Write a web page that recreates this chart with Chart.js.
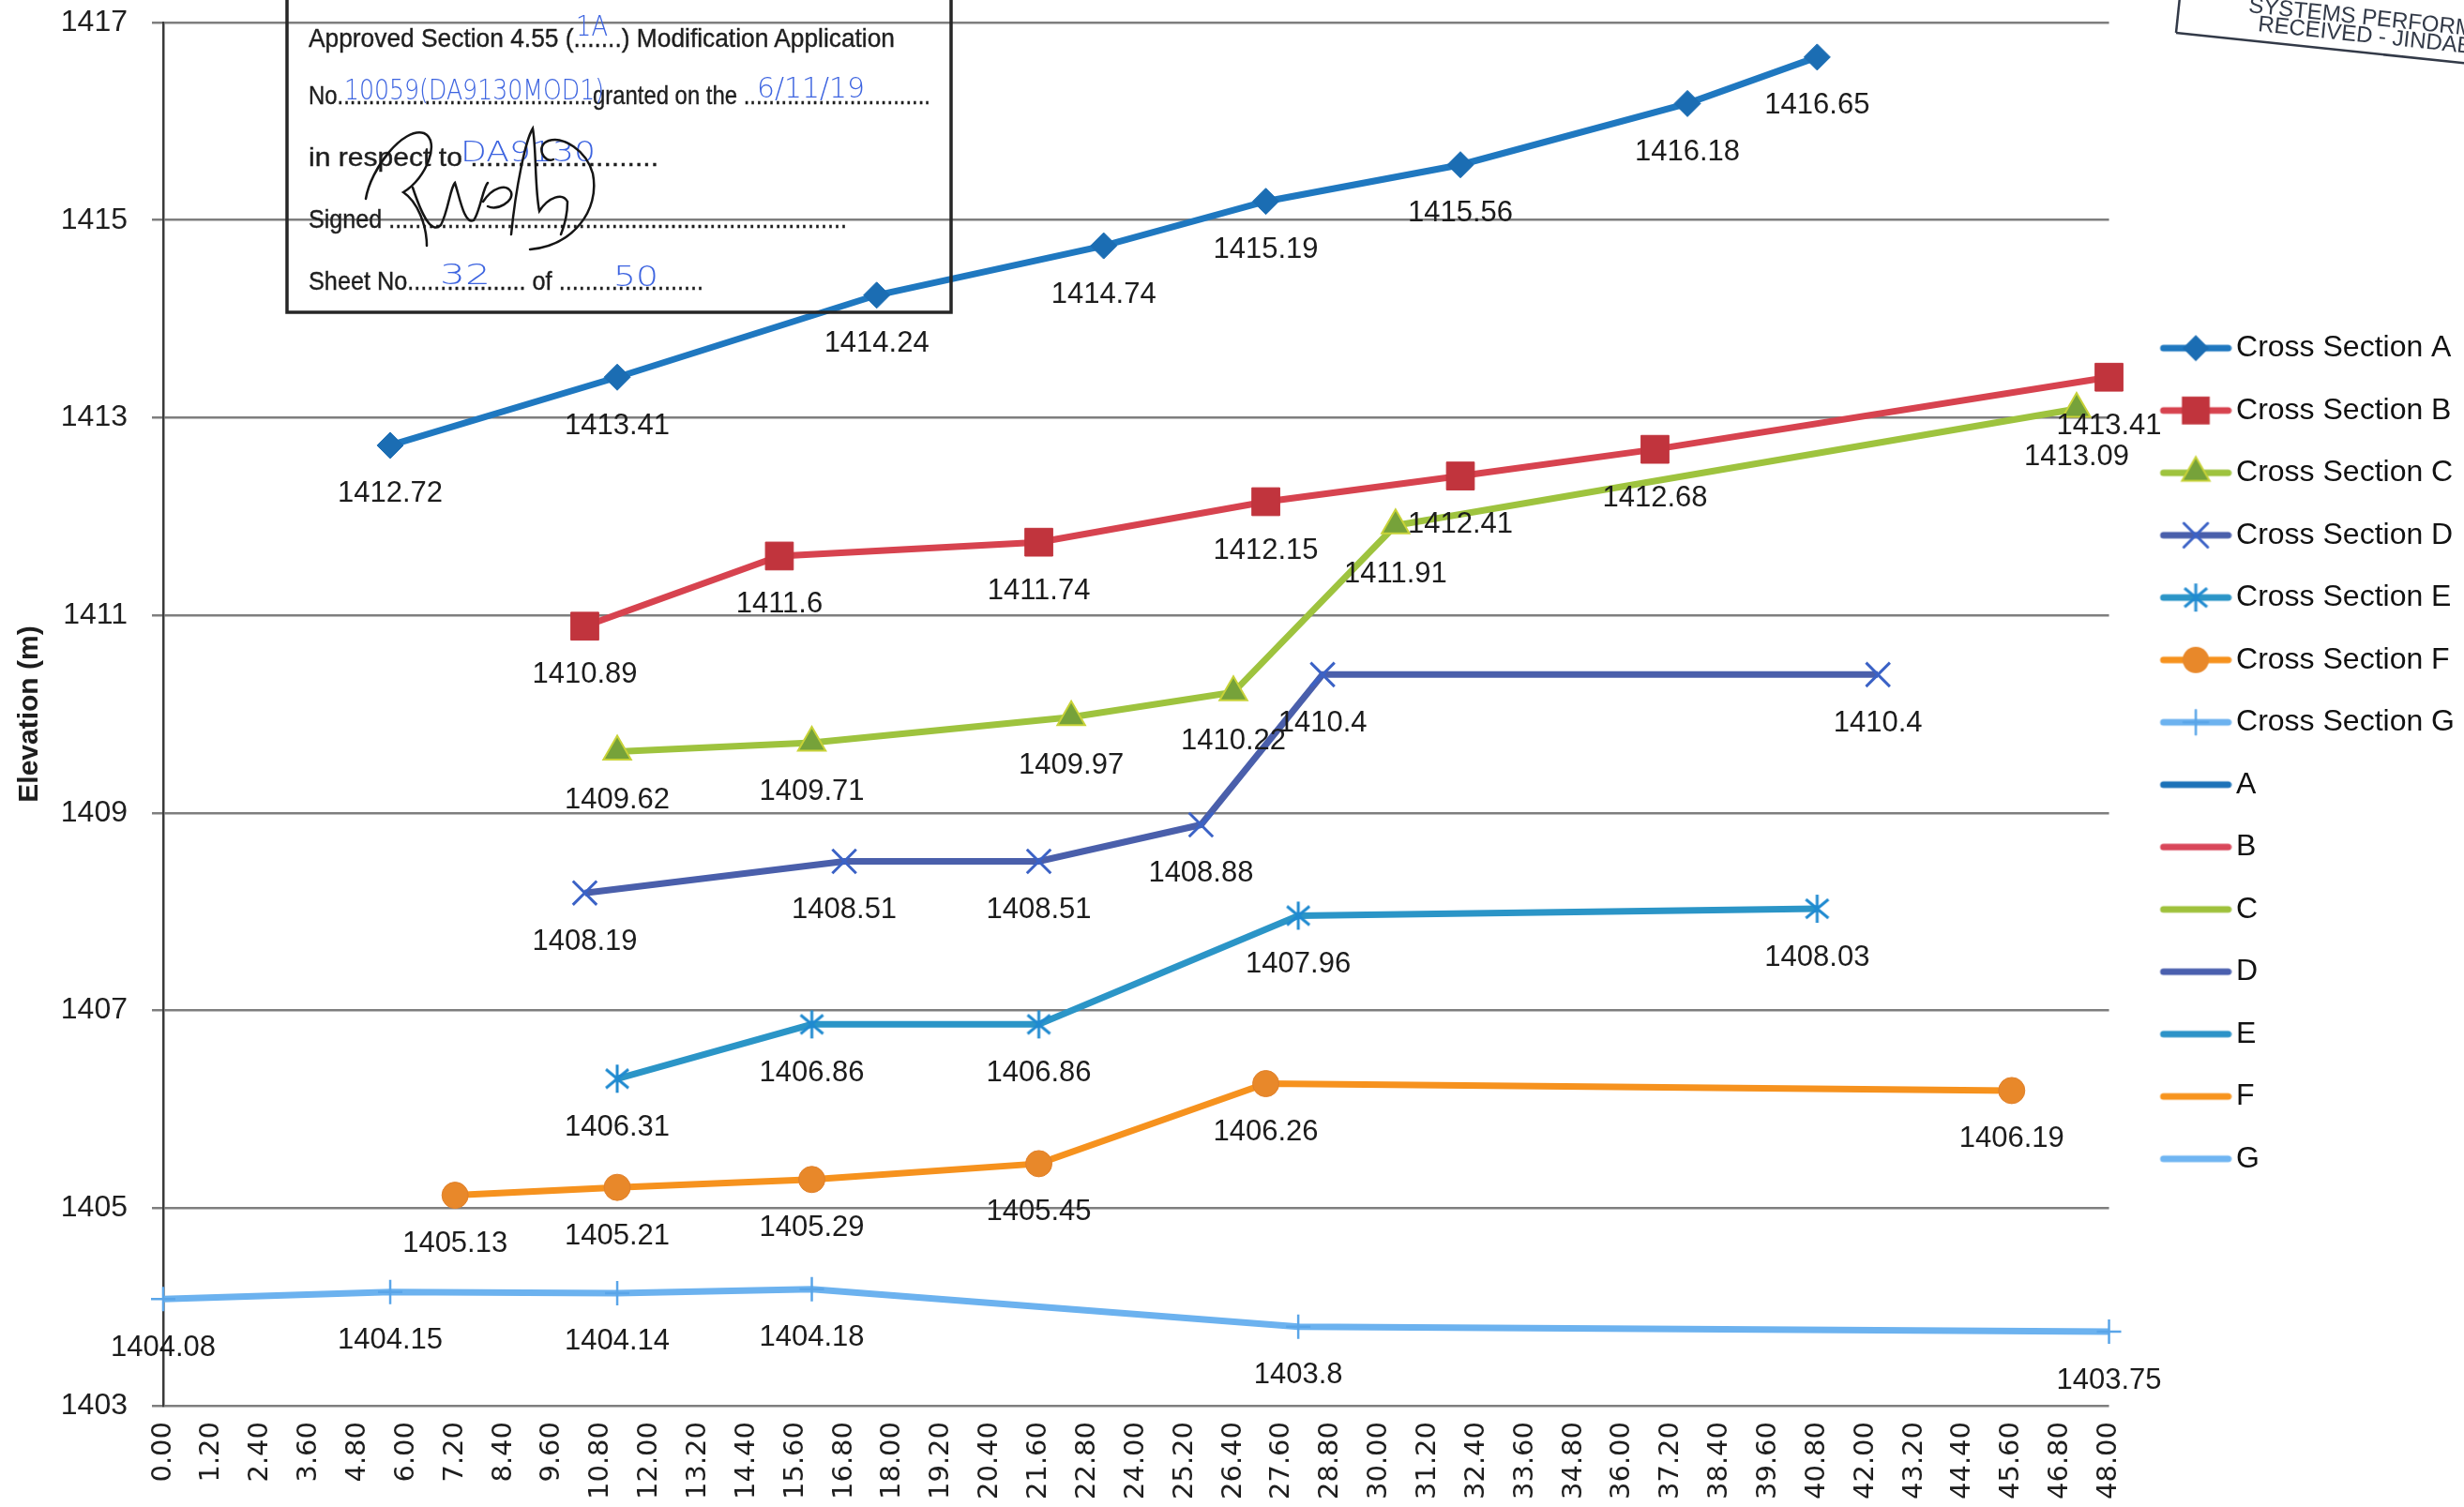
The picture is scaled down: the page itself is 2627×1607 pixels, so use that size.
<!DOCTYPE html>
<html><head><meta charset="utf-8">
<script src="https://cdn.jsdelivr.net/npm/chart.js@4.4.1/dist/chart.umd.min.js"></script>
<style>
html,body{margin:0;padding:0;background:#fff;width:2627px;height:1607px;overflow:hidden}
#wrap{position:relative;width:2627px;height:1607px}
#c{position:absolute;left:0;top:0}
#stamp{position:absolute;left:0;top:0;pointer-events:none}
</style></head><body>
<div id="wrap">
<canvas id="c" width="2627" height="1607"></canvas>
<svg id="stamp" width="2627" height="1607" viewBox="0 0 2627 1607" xmlns="http://www.w3.org/2000/svg">
  <rect x="306" y="-10" width="708" height="343" fill="none" stroke="#262626" stroke-width="3.5"/>
  <g font-family="Liberation Sans, Arial, sans-serif" font-size="28" fill="#1e1e1e" stroke="#1e1e1e" stroke-width="0.4">
    <text x="329" y="50" textLength="625" lengthAdjust="spacingAndGlyphs">Approved Section 4.55 (.......) Modification Application</text>
    <text x="329" y="111" textLength="663" lengthAdjust="spacingAndGlyphs">No.........................................granted on the ..............................</text>
    <text x="329" y="177" textLength="373" lengthAdjust="spacingAndGlyphs">in respect to ........................</text>
    <text x="329" y="243" textLength="574" lengthAdjust="spacingAndGlyphs">Signed ......................................................................</text>
    <text x="329" y="309" textLength="421" lengthAdjust="spacingAndGlyphs">Sheet No.................. of ......................</text>
  </g>
  <g font-family="DejaVu Sans, sans-serif" font-size="30" fill="#3d64e0" font-weight="300">
    <text x="614" y="38" textLength="34" lengthAdjust="spacingAndGlyphs">1A</text>
    <text x="367" y="106" textLength="277" lengthAdjust="spacingAndGlyphs">10059(DA9130MOD1)</text>
    <text x="807" y="104" textLength="115" lengthAdjust="spacingAndGlyphs">6/11/19</text>
    <text x="491" y="172" textLength="144" lengthAdjust="spacingAndGlyphs">DA9130</text>
    <text x="469" y="303" textLength="54" lengthAdjust="spacingAndGlyphs">32</text>
    <text x="654" y="305" textLength="48" lengthAdjust="spacingAndGlyphs">50</text>
  </g>
  <g fill="none" stroke="#151515" stroke-width="2.5" stroke-linecap="round">
    <path d="M390 212 C395 180 430 135 452 142 C470 150 455 190 430 205 C445 215 455 240 455 262"/>
    <path d="M440 200 C450 230 460 250 470 240 C478 225 480 200 485 195 C490 210 495 240 505 235 C512 225 515 200 520 195"/>
    <path d="M515 215 C525 200 540 195 545 205 C548 215 530 225 520 220"/>
    <path d="M545 250 C550 200 560 150 568 137 C572 160 570 200 575 225 C585 210 600 205 605 215 C605 230 600 245 598 250"/>
    <path d="M565 266 C610 262 640 225 632 185 C625 160 600 145 585 150 C570 155 580 175 590 170"/>
  </g>
  <g transform="rotate(6 2320 35)" fill="#333a48" font-family="Liberation Sans, Arial, sans-serif" font-size="24">
    <line x1="2320" y1="-60" x2="2320" y2="35" stroke="#333a48" stroke-width="2.5"/>
    <line x1="2320" y1="35" x2="2720" y2="35" stroke="#333a48" stroke-width="2.5"/>
    <text x="2394" y="5">SYSTEMS PERFORMANCE</text>
    <text x="2406" y="24">RECEIVED - JINDABYNE</text>
  </g>
</svg>
</div>
<script>
// ---- data ----
const seriesNames = ['Cross Section A','Cross Section B','Cross Section C','Cross Section D','Cross Section E','Cross Section F','Cross Section G'];
const lineOnlyNames = ['A','B','C','D','E','F','G'];
const distA = [5.6, 11.2, 17.6, 23.2, 27.2, 32.0, 37.6, 40.8];
const elevA = [1412.72, 1413.41, 1414.24, 1414.74, 1415.19, 1415.56, 1416.18, 1416.65];
const distB = [10.4, 15.2, 21.6, 27.2, 32.0, 36.8, 48.0];
const elevB = [1410.89, 1411.6, 1411.74, 1412.15, 1412.41, 1412.68, 1413.41];
const distC = [11.2, 16.0, 22.4, 26.4, 30.4, 47.2];
const elevC = [1409.62, 1409.71, 1409.97, 1410.22, 1411.91, 1413.09];
const distD = [10.4, 16.8, 21.6, 25.6, 28.6, 42.3];
const elevD = [1408.19, 1408.51, 1408.51, 1408.88, 1410.4, 1410.4];
const distE = [11.2, 16.0, 21.6, 28.0, 40.8];
const elevE = [1406.31, 1406.86, 1406.86, 1407.96, 1408.03];
const distF = [7.2, 11.2, 16.0, 21.6, 27.2, 45.6];
const elevF = [1405.13, 1405.21, 1405.29, 1405.45, 1406.26, 1406.19];
const distG = [0, 5.6, 11.2, 16.0, 28.0, 48.0];
const elevG = [1404.08, 1404.15, 1404.14, 1404.18, 1403.8, 1403.75];
const xMin = 0, xMax = 48, xStep = 1.2;
const yMin = 1403, yMax = 1417, yStep = 2;
const yTitle = 'Elevation (m)';

// ---- styles ----
const seriesStyles = [
  {line:'#1f78c0', fill:'#1b6db3', stroke:'#1b6db3', shape:'rectRot', r:14, bw:1},
  {line:'#d7434f', fill:'#c1343d', stroke:'#c1343d', shape:'rect', r:21, bw:1},
  {line:'#9ec33e', fill:'#76a23a', stroke:'#c8d238', shape:'triangle', r:17, bw:2},
  {line:'#4a5fab', fill:'#3b62c6', stroke:'#3b62c6', shape:'crossRot', r:18, bw:3},
  {line:'#2b95c7', fill:'#1f8ad0', stroke:'#1f8ad0', shape:'asterisk', r:16, bw:3},
  {line:'#f6921e', fill:'#e8882a', stroke:'#e0802a', shape:'circle', r:14, bw:1},
  {line:'#6cb2ef', fill:'#5aa5e8', stroke:'#5aa5e8', shape:'cross', r:13, bw:2.5}
];
const plainColors = ['#1c72b8','#d9475a','#9fc13c','#4a5fae','#2d93c8','#f7941e','#6fb5f2'];

function makeAsterisk(color){
  const c = document.createElement('canvas'); c.width = 34; c.height = 34;
  const g = c.getContext('2d'); g.strokeStyle = color; g.lineWidth = 3;
  g.beginPath(); g.moveTo(17,2); g.lineTo(17,32); g.moveTo(5,7); g.lineTo(29,27); g.moveTo(5,27); g.lineTo(29,7); g.stroke();
  return c;
}
const asteriskImg = makeAsterisk(seriesStyles[4].stroke);

function drawMarker(g, s, cx, cy){
  g.fillStyle = s.fill; g.strokeStyle = s.stroke; g.lineWidth = s.bw;
  const r = s.r; g.beginPath();
  switch(s.shape){
    case 'rectRot': g.moveTo(cx,cy-r); g.lineTo(cx+r,cy); g.lineTo(cx,cy+r); g.lineTo(cx-r,cy); g.closePath(); g.fill(); break;
    case 'rect': { const h = r*Math.SQRT1_2; g.rect(cx-h,cy-h,2*h,2*h); g.fill(); break; }
    case 'triangle': g.moveTo(cx,cy-r); g.lineTo(cx+r*0.866,cy+r*0.5); g.lineTo(cx-r*0.866,cy+r*0.5); g.closePath(); g.fill(); g.stroke(); break;
    case 'crossRot': { const d = r*Math.SQRT1_2; g.moveTo(cx-d,cy-d); g.lineTo(cx+d,cy+d); g.moveTo(cx-d,cy+d); g.lineTo(cx+d,cy-d); g.stroke(); break; }
    case 'asterisk': g.drawImage(asteriskImg, cx-asteriskImg.width/2, cy-asteriskImg.height/2); break;
    case 'circle': g.arc(cx,cy,r,0,Math.PI*2); g.fill(); break;
    case 'cross': g.moveTo(cx,cy-r); g.lineTo(cx,cy+r); g.moveTo(cx-r,cy); g.lineTo(cx+r,cy); g.stroke(); break;
  }
}
function legendImage(color, style){
  const c = document.createElement('canvas'); c.width = 108; c.height = 46;
  const g = c.getContext('2d');
  g.strokeStyle = color; g.lineWidth = 7; g.lineCap = 'round';
  g.beginPath(); g.moveTo(35,23); g.lineTo(104,23); g.stroke();
  if (style) drawMarker(g, style, 69.5, 23);
  return c;
}

const dists = [distA, distB, distC, distD, distE, distF, distG];
const elevs = [elevA, elevB, elevC, elevD, elevE, elevF, elevG];
const toPoints = (xs, ys) => xs.map((x, i) => ({x: x, y: ys[i]}));

const datasets = [];
const legendImgs = [];
seriesNames.forEach((name, i) => {
  const s = seriesStyles[i];
  datasets.push({
    label: name, data: toPoints(dists[i], elevs[i]),
    borderColor: s.line, backgroundColor: s.fill, borderWidth: 7, tension: 0,
    pointStyle: s.shape === 'asterisk' ? asteriskImg : s.shape,
    pointRadius: s.r, pointHoverRadius: s.r,
    pointBackgroundColor: s.fill, pointBorderColor: s.stroke, pointBorderWidth: s.bw,
    clip: false, showLabels: true
  });
  legendImgs.push(legendImage(s.line, s));
});
lineOnlyNames.forEach((name, i) => {
  datasets.push({label: name, data: [], borderColor: plainColors[i], borderWidth: 7, pointRadius: 0, showLabels: false});
  legendImgs.push(legendImage(plainColors[i], null));
});

const labelPlugin = {
  id: 'pointLabels',
  afterDatasetsDraw(chart){
    const ctx = chart.ctx;
    ctx.save();
    ctx.font = '31px "Liberation Sans", Arial, sans-serif';
    ctx.fillStyle = '#1c1c1c'; ctx.textAlign = 'center'; ctx.textBaseline = 'middle';
    chart.data.datasets.forEach((ds, i) => {
      if (!ds.showLabels) return;
      const meta = chart.getDatasetMeta(i);
      meta.data.forEach((el, j) => {
        ctx.fillText(String(ds.data[j].y), el.x, el.y + 52);
      });
    });
    ctx.restore();
  }
};

new Chart(document.getElementById('c'), {
  type: 'line',
  data: { datasets: datasets },
  plugins: [labelPlugin],
  options: {
    responsive: false, animation: false, devicePixelRatio: 1,
    layout: { padding: 0 },
    plugins: {
      tooltip: { enabled: false },
      legend: {
        position: 'right', align: 'center', maxWidth: 382,
        labels: {
          usePointStyle: true, pointStyleWidth: 85, padding: 34.5,
          font: { family: '"Liberation Sans", Arial, sans-serif', size: 32 }, color: '#111',
          generateLabels: (chart) => chart.data.datasets.map((ds, i) => ({
            text: ds.label, pointStyle: legendImgs[i], fillStyle: 'rgba(0,0,0,0)',
            strokeStyle: 'rgba(0,0,0,0)', lineWidth: 0, hidden: false, datasetIndex: i, fontColor: '#111'
          }))
        }
      }
    },
    scales: {
      x: {
        type: 'linear', min: xMin, max: xMax,
        afterFit: (s) => { s.height = 108; },
        grid: { display: false, drawTicks: false },
        border: { display: false },
        ticks: {
          stepSize: xStep, autoSkip: false, minRotation: 90, maxRotation: 90, padding: 17,
          color: '#1e1e1e', font: { family: '"DejaVu Sans", sans-serif', size: 29 },
          callback: (v) => Number(v).toFixed(2)
        }
      },
      y: {
        type: 'linear', min: yMin, max: yMax,
        afterFit: (s) => { s.width = 174; s.paddingTop = 24; s.paddingBottom = 0; },
        grid: { color: '#7e7e7e', lineWidth: 2.5, tickLength: 12, tickColor: '#7e7e7e' },
        border: { display: true, color: '#3a3a3a', width: 2.5 },
        ticks: { stepSize: yStep, padding: 26, color: '#1e1e1e', font: { family: '"Liberation Sans", Arial, sans-serif', size: 32 },
                 callback: (v) => String(v) },
        title: { display: true, text: yTitle, color: '#1e1e1e', padding: { top: 14, bottom: 0 },
                 font: { family: '"Liberation Sans", Arial, sans-serif', size: 30, weight: 'bold' } }
      }
    }
  }
});
</script>
</body></html>
